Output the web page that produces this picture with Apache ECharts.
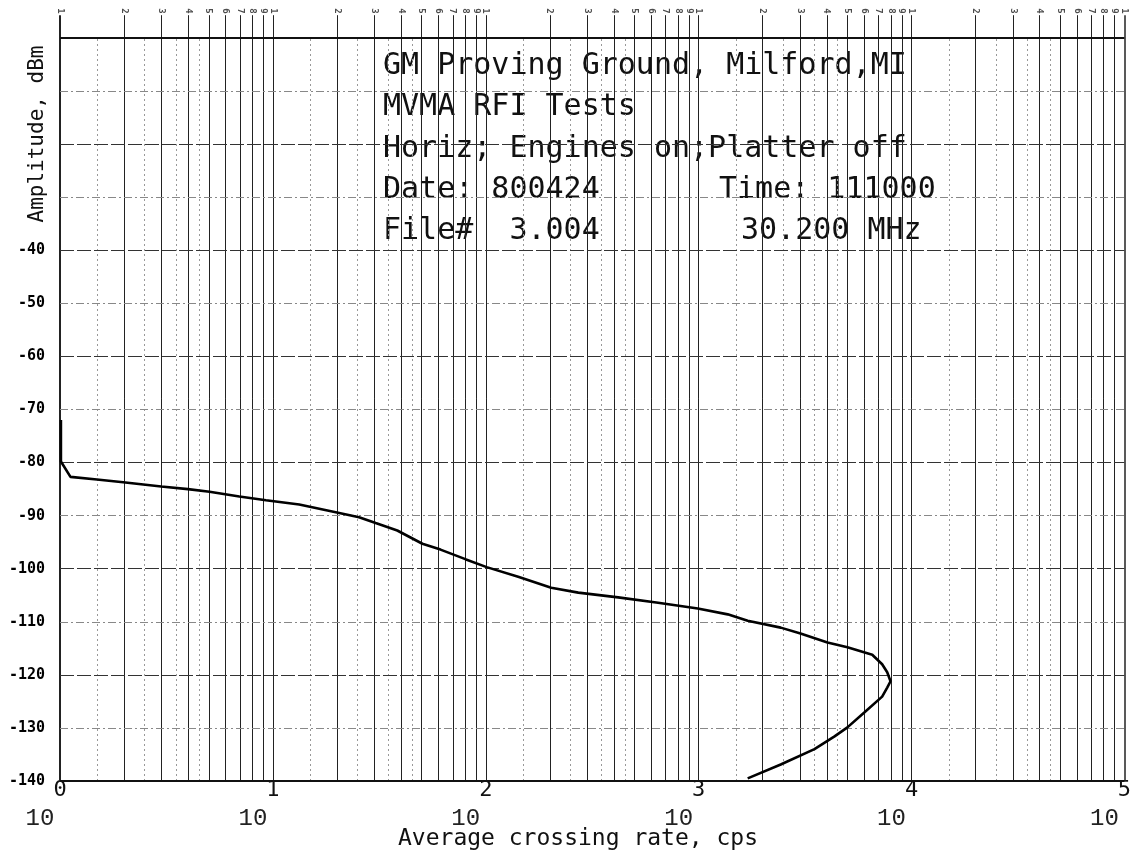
<!DOCTYPE html>
<html>
<head>
<meta charset="utf-8">
<script src="https://cdn.jsdelivr.net/npm/echarts@6/dist/echarts.min.js"></script>
<style>
  html, body { margin: 0; padding: 0; background: #fff; }
  #chart { width: 1134px; height: 859px; }
</style>
</head>
<body>
<div id="chart"></div>
<script>
// Average crossing rate (cps) against amplitude (dBm), traced top to bottom
const crossingRate = [
  1.01, 1.01, 1.12, 1.49, 1.98, 2.99, 3.99, 5.04, 6.96, 9.28,
  13.3, 20.5, 25.4, 30.4, 38.4, 50.4, 61.3, 80.2, 101, 142,
  203, 272, 419, 645, 991, 1370, 1700, 2430, 3010, 4030,
  5000, 6540, 7280, 7690, 7970, 7690, 7280, 6000, 5000, 4350,
  3500, 2430, 1700
];
const amplitudeDbm = [
  -72.0, -79.8, -82.7, -83.2, -83.7, -84.5, -85.0, -85.5, -86.4, -87.1,
  -87.9, -89.5, -90.3, -91.4, -92.8, -95.3, -96.4, -98.2, -99.7, -101.5,
  -103.6, -104.5, -105.4, -106.4, -107.5, -108.6, -109.8, -111.1, -112.2, -113.9,
  -114.8, -116.2, -118.0, -119.5, -121.2, -122.4, -124.1, -127.1, -129.9, -131.6,
  -134.0, -136.9, -139.5
];

// Log paper rulings
const decades = [0, 1, 2, 3, 4];
const lastDecade = 5;
const mantissas = [1, 2, 3, 4, 5, 6, 7, 8, 9];
const halfMantissas = [1.5, 2.5, 3.5, 4.5];
const gridLevels = [-130, -120, -110, -100, -90, -80, -70, -60, -50, -40, -30, -20, -10];
const yTickLabels = [-40, -50, -60, -70, -80, -90, -100, -110, -120, -130, -140];
const xExponentLabels = ['0', '1', '2', '3', '4', '5'];
const xBaseLabel = '10';

const yMin = -140, yFrame = 0, yRuleTop = 4.3, yDigit = 5.1, yMax = 6.5;
const xMin = 1, xMax = 100000;

const headerLines = [
  'GM Proving Ground, Milford,MI',
  'MVMA RFI Tests',
  'Horiz; Engines on;Platter off',
  'Date: 800424',
  'File#  3.004'
];
const headerRight = ['', '', '', 'Time: 111000', '30.200 MHz'];

const ink = '#111';
const mono = '"DejaVu Sans Mono", "Liberation Mono", monospace';

// ruling lines
const rules = [];
const digitMarks = [];
function vline(x, top, style) {
  rules.push([{ coord: [x, yMin], lineStyle: style }, { coord: [x, top] }]);
}
decades.forEach(d => {
  mantissas.forEach(m => {
    const x = m * Math.pow(10, d);
    vline(x, yRuleTop, { color: '#222', width: m === 1 && d === 0 ? 2 : 1, type: 'solid' });
    digitMarks.push({ value: [x, yDigit], name: String(m) });
  });
  halfMantissas.forEach(h => {
    vline(h * Math.pow(10, d), yFrame, { color: '#999', width: 1, type: [2, 3] });
  });
});
vline(Math.pow(10, lastDecade), yRuleTop, { color: '#222', width: 1.5, type: 'solid' });
digitMarks.push({ value: [Math.pow(10, lastDecade), yDigit], name: '1' });

gridLevels.forEach(v => {
  const major = v % 20 === 0;
  rules.push([
    { coord: [xMin, v], lineStyle: major
        ? { color: '#333', width: 1, type: [14, 3] }
        : { color: '#888', width: 1, type: [8, 3, 2, 3] } },
    { coord: [xMax, v] }
  ]);
});
rules.push([{ coord: [xMin, yFrame], lineStyle: { color: ink, width: 2, type: 'solid' } }, { coord: [xMax, yFrame] }]);
rules.push([{ coord: [xMin, yMin], lineStyle: { color: ink, width: 2, type: 'solid' } }, { coord: [xMax, yMin] }]);

const curve = crossingRate.map((r, i) => [r, amplitudeDbm[i]]);

const headerGraphics = [];
const baseY = [66, 107, 149, 190, 231];
headerLines.forEach((t, i) => {
  headerGraphics.push({
    type: 'text', x: 383, y: baseY[i], silent: true,
    style: { text: t, font: '30px ' + mono, fill: ink, textAlign: 'left', textVerticalAlign: 'middle' }
  });
  if (headerRight[i]) {
    headerGraphics.push({
      type: 'text', x: i === 3 ? 719 : 741, y: baseY[i], silent: true,
      style: { text: headerRight[i], font: '30px ' + mono, fill: ink, textAlign: 'left', textVerticalAlign: 'middle' }
    });
  }
});

const chart = echarts.init(document.getElementById('chart'), null, { renderer: 'canvas' });
chart.setOption({
  animation: false,
  backgroundColor: '#fff',
  grid: { left: 60, right: 6, top: 3.5, bottom: 78, containLabel: false },
  xAxis: [
    {
      type: 'log', logBase: 10, min: xMin, max: xMax,
      axisLine: { show: false }, axisTick: { show: false }, splitLine: { show: false },
      axisLabel: {
        show: true, margin: 9, verticalAlign: 'middle', showMinLabel: true, showMaxLabel: true,
        fontFamily: mono, fontSize: 22, color: ink,
        formatter: v => xExponentLabels[Math.round(Math.log10(v))]
      }
    },
    {
      type: 'log', logBase: 10, min: xMin, max: xMax, position: 'bottom',
      axisLine: { show: false }, axisTick: { show: false }, splitLine: { show: false },
      axisLabel: {
        show: true, margin: 38, verticalAlign: 'middle', showMinLabel: true, showMaxLabel: true,
        fontFamily: '"Liberation Mono", monospace', fontSize: 24, color: '#222',
        padding: [0, 40, 0, 0],
        formatter: () => xBaseLabel
      }
    }
  ],
  yAxis: {
    type: 'value', min: yMin, max: yMax, interval: 10,
    axisLine: { show: false }, axisTick: { show: false }, splitLine: { show: false },
    axisLabel: {
      margin: 15, fontFamily: mono, fontWeight: 'bold', fontSize: 15, color: '#000',
      showMaxLabel: false,
      formatter: v => (yTickLabels.indexOf(v) >= 0 ? String(v) : '')
    }
  },
  graphic: [
    {
      type: 'text', x: 38, y: 134, rotation: Math.PI / 2, silent: true,
      style: { text: 'Amplitude, dBm', font: '21px ' + mono, fill: ink, textAlign: 'center', textVerticalAlign: 'middle' }
    },
    {
      type: 'text', x: 578, y: 839, silent: true,
      style: { text: 'Average crossing rate, cps', font: '23px ' + mono, fill: ink, textAlign: 'center', textVerticalAlign: 'middle' }
    }
  ].concat(headerGraphics),
  series: [
    {
      type: 'scatter', z: 1, silent: true,
      symbolSize: 0,
      itemStyle: { color: 'transparent' },
      data: digitMarks,
      label: {
        show: true, position: 'inside', rotate: -90, formatter: '{b}',
        fontFamily: mono, fontSize: 9, fontWeight: 'bold', color: '#222'
      },
      markLine: {
        silent: true, symbol: ['none', 'none'], animation: false,
        label: { show: false },
        data: rules
      }
    },
    {
      type: 'line', z: 5, silent: true,
      data: curve,
      showSymbol: false, smooth: false,
      lineStyle: { color: '#000', width: 2.6 }
    }
  ]
});
</script>
</body>
</html>
